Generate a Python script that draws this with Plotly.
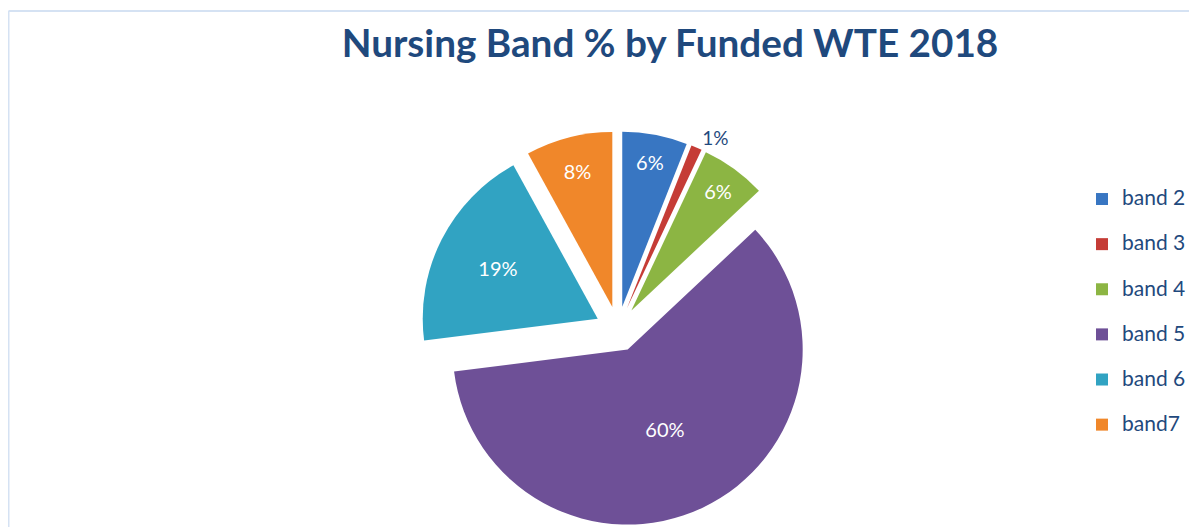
import plotly.graph_objects as go

# ---- data ----
bands = ["band 2", "band 3", "band 4", "band 5", "band 6", "band7"]
percent = [6, 1, 6, 60, 19, 8]
label_pos = ["inside", "outside", "inside", "inside", "inside", "inside"]
colors = ["#3876C2", "#C53C36", "#8CB543", "#6E5097", "#31A3C2", "#F0872A"]

# figure sits inside the page's 8px body margin
W, H = 1189, 519
TEXT_BLUE = "#1F497D"
FONT = "Lato"

# legend entries: larger visible text, extra blank line to widen row spacing
legend_labels = [f"<span style='font-size:21px'>{b}</span><br> " for b in bands]

# pie geometry (pixels, figure coords) -> paper domain
cx, cy = 610, 321
pull = 0.13
r = 175
half = r * (1 + pull)
dom_x = [(cx - half - 30) / W, (cx + half + 30) / W]
dom_y = [max(0.0, 1 - (cy + half) / H), min(1.0, 1 - (cy - half) / H)]

fig = go.Figure(
    go.Pie(
        labels=legend_labels,
        values=percent,
        sort=False,
        direction="clockwise",
        rotation=0,
        pull=pull,
        marker=dict(colors=colors, line=dict(width=0)),
        texttemplate="%{value}%",
        textposition=label_pos,
        insidetextorientation="horizontal",
        insidetextfont=dict(color="white", size=20, family=FONT),
        outsidetextfont=dict(color=TEXT_BLUE, size=19, family=FONT),
        hoverinfo="skip",
        domain=dict(x=dom_x, y=dom_y),
    )
)

fig.update_layout(
    width=W,
    height=H,
    margin=dict(l=0, r=0, t=0, b=0, autoexpand=False),
    paper_bgcolor="white",
    plot_bgcolor="white",
    font=dict(family=FONT, color=TEXT_BLUE),
    title=dict(
        text="<b>Nursing Band % by Funded WTE 2018</b>",
        x=662 / W,
        xanchor="center",
        y=1 - 35 / H,
        yanchor="middle",
        font=dict(family=FONT, size=38.7, color=TEXT_BLUE),
    ),
    legend=dict(
        x=1074 / W,
        xanchor="left",
        y=1 - 174 / H,
        yanchor="top",
        font=dict(family=FONT, size=16.2, color=TEXT_BLUE),
        valign="top",
        bgcolor="rgba(0,0,0,0)",
        traceorder="normal",
    ),
    shapes=[
        dict(type="line", xref="paper", yref="paper",
             x0=0.5 / W, x1=1.02, y0=1 - 3 / H, y1=1 - 3 / H,
             line=dict(color="#D5E2F3", width=2)),
        dict(type="line", xref="paper", yref="paper",
             x0=0.5 / W, x1=0.5 / W, y0=1 - 3 / H, y1=-0.05,
             line=dict(color="#D5E2F3", width=2)),
    ],
)

fig.write_html("out.html")
